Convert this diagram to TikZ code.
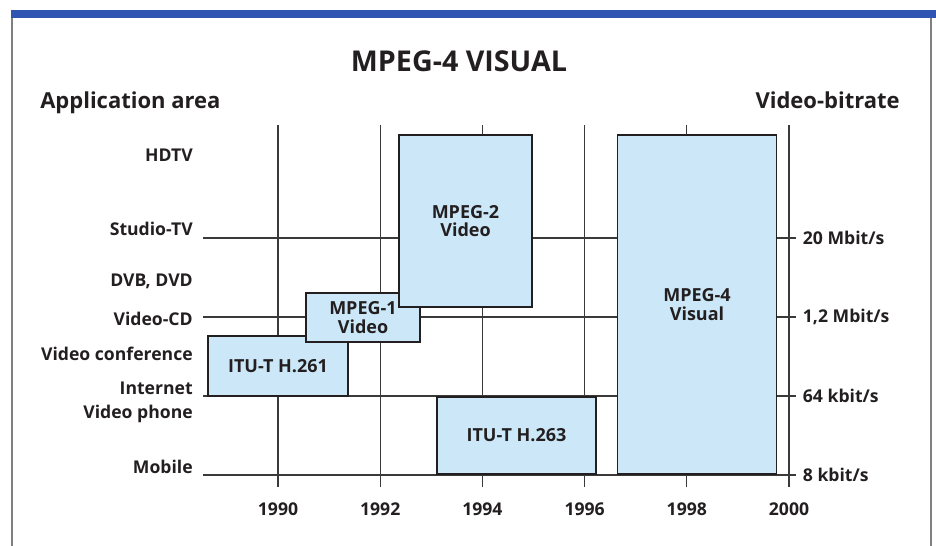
\documentclass[tikz,border=0pt]{standalone}
\usepackage{fontspec}
\setmainfont{Open Sans}
\usetikzlibrary{positioning}
\definecolor{ink}{RGB}{35,31,32}
\definecolor{rule}{RGB}{58,58,58}
\definecolor{boxblue}{RGB}{204,232,248}
\definecolor{barblue}{RGB}{47,84,178}

\begin{document}
\begin{tikzpicture}[x=0.75pt, y=-0.75pt, color=ink, font=\bfseries,
    gridline/.style={draw=rule, line width=0.9pt},
    codec/.style={draw=ink, line width=1.1pt, fill=boxblue, align=center,
      inner sep=0pt, font=\bfseries\fontsize{13.5}{14}\selectfont},
    lbl/.style={inner sep=0pt, font=\bfseries\fontsize{13.2}{15}\selectfont}]
  \useasboundingbox (0,0) rectangle (936,546);
  \fill[barblue] (11,10) rectangle (936,18);
  \draw[gray, line width=0.8pt] (12,18) -- (12,546) (931,18) -- (931,546);

  \node[anchor=base] (title) at (459,71)
    {\fontsize{21.5}{25}\selectfont MPEG-4 VISUAL};
  \node[lbl, anchor=base west, font=\bfseries\fontsize{16.5}{19}\selectfont]
    (area) at (40,108) {Application area};
  \node[lbl, anchor=base east, font=\bfseries\fontsize{16.5}{19}\selectfont]
    (bitrate) at (900,108) {Video-bitrate};

  % time axis
  \foreach \yr [count=\i from 0] in {1990,1992,...,2000} {
    \pgfmathsetmacro{\xx}{278+102.2*\i}
    \coordinate (top\i) at (\xx,125);
    \coordinate (bot\i) at (\xx,487);
    \draw[gridline] (top\i) -- (bot\i);
    \node[lbl, anchor=base] (yr\i) at (\xx,515) {\yr};
  }

  % bit rates
  \foreach \y/\r [count=\i] in {238/{20 Mbit/s}, 317/{1,2 Mbit/s},
                                396/{64 kbit/s}, 475/{8 kbit/s}} {
    \coordinate (l\i) at (203,\y);
    \coordinate (r\i) at (796,\y);
    \draw[gridline] (l\i) -- (r\i);
    \node[lbl, right=5pt of r\i] (bit\i) {\r};
  }

  % application areas
  \foreach \y/\t [count=\i] in {161/HDTV, 235/Studio-TV, 286/{DVB, DVD},
      325/Video-CD, 360/Video conference, 394/Internet, 418/Video phone,
      473/Mobile}
    \node[lbl, anchor=base east] (app\i) at (193,\y) {\t};

  % standards
  \node[codec, minimum width=105pt, minimum height=45pt] (h261)
    at (278,366) {ITU-T H.261};
  \node[codec, minimum width=85.5pt, minimum height=36.75pt] (mpeg1)
    at (363,317.5) {MPEG-1\\Video};
  \node[codec, minimum width=99.75pt, minimum height=129pt] (mpeg2)
    at (465.5,221) {MPEG-2\\Video};
  \node[codec, minimum width=119.25pt, minimum height=57.75pt] (h263)
    at (516.5,435.5) {ITU-T H.263};
  \node[codec, minimum width=119.6pt, minimum height=254.25pt] (mpeg4)
    at (697,304.5) {MPEG-4\\Visual};
\end{tikzpicture}
\end{document}
